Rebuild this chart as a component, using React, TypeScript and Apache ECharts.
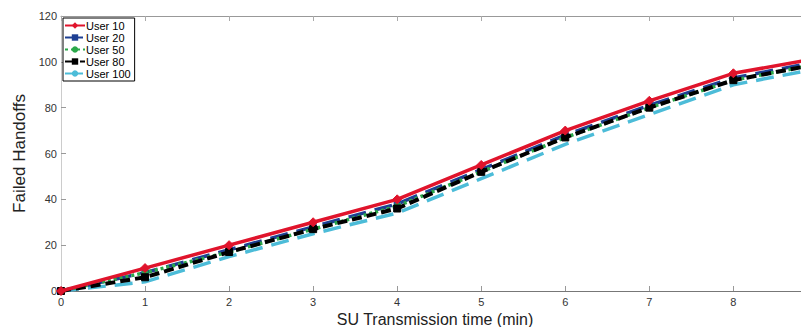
import React, { useEffect, useRef } from "react";
import * as echarts from "echarts";

const xValues = [0, 1, 2, 3, 4, 5, 6, 7, 8, 9];
const user10 = [0, 10, 20, 30, 40, 55, 70, 83, 95, 101.5];
const user20 = [0, 8, 18, 28, 38, 53, 68, 81, 93, 100];
const user50 = [0, 8, 17, 27, 37, 52, 67, 80, 92, 99];
const user80 = [0, 6, 17, 27, 36, 52, 67, 80, 92, 99];
const user100 = [0, 4, 15, 25, 34, 49, 64, 77, 90, 97];

const seriesNames = ["User 10", "User 20", "User 50", "User 80", "User 100"];
const yTicks = [0, 20, 40, 60, 80, 100, 120];
const xTicks = [0, 1, 2, 3, 4, 5, 6, 7, 8];

const FONT = "Liberation Sans";

export default function App() {
  const ref = useRef<HTMLDivElement>(null);
  useEffect(() => {
    if (!ref.current) return;
    const chart = echarts.init(ref.current, null, { renderer: "svg" });
    const pts = (arr: number[]) => xValues.map((x, i) => [x, arr[i]]);
    const mk = (
      name: string,
      data: number[],
      color: string,
      type: any,
      width: number,
      symbol: string,
      size: number,
      z: number
    ) => ({
      name,
      type: "line",
      data: pts(data),
      symbol,
      symbolSize: size,
      showSymbol: symbol !== "none",
      z,
      clip: true,
      lineStyle: { color, width, type },
      itemStyle: { color, borderColor: color },
    });
    chart.setOption({
      animation: false,
      backgroundColor: "#ffffff",
      grid: { left: 61, right: 0, top: 16, bottom: 44, show: false },
      legend: {
        orient: "vertical",
        left: 63,
        top: 18,
        data: seriesNames,
        itemWidth: 20,
        itemHeight: 8,
        itemGap: 1,
        padding: [2, 4, 2, 1],
        borderColor: "#000",
        borderWidth: 1,
        backgroundColor: "#fff",
        textStyle: { fontFamily: FONT, fontSize: 11, color: "#000", padding: [0, 0, 0, -4] },
      },
      xAxis: [
        {
          type: "value",
          min: 0,
          max: 8.9,
          interval: 1,
          name: "SU Transmission time (min)",
          nameLocation: "middle",
          nameGap: 19,
          nameTextStyle: { fontFamily: FONT, fontSize: 16, color: "#222" },
          axisLine: { show: true, lineStyle: { color: "#777", width: 1 } },
          axisTick: { show: true, inside: true, length: 5, lineStyle: { color: "#999" } },
          axisLabel: {
            fontFamily: FONT,
            fontSize: 11,
            color: "#333",
            margin: 5,
            showMaxLabel: false,
            formatter: (v: number) => (xTicks.includes(v) ? String(v) : ""),
          },
          splitLine: { show: false },
        },
        {
          type: "value",
          position: "top",
          min: 0,
          max: 8.9,
          interval: 1,
          axisLine: { show: true, lineStyle: { color: "#999", width: 1 } },
          axisTick: { show: true, inside: true, length: 5, lineStyle: { color: "#aaa" } },
          axisLabel: { show: false },
          splitLine: { show: false },
        },
      ],
      yAxis: {
        type: "value",
        min: 0,
        max: 120,
        interval: 20,
        name: "Failed Handoffs",
        nameLocation: "middle",
        nameGap: 33,
        nameTextStyle: { fontFamily: FONT, fontSize: 17, color: "#222" },
        axisLine: { show: true, lineStyle: { color: "#ccc", width: 1 } },
        axisTick: { show: true, inside: true, length: 5, lineStyle: { color: "#999" } },
        axisLabel: {
          fontFamily: FONT,
          fontSize: 11,
          color: "#333",
          margin: 4,
          formatter: (v: number) => (yTicks.includes(v) ? String(v) : ""),
        },
        splitLine: { show: false },
      },
      series: [
        mk("User 100", user100, "#4cbcd8", [18, 9], 3.5, "none", 0, 1),
        mk("User 20", user20, "#1d3f93", [18, 9], 3.5, "rect", 6, 2),
        mk("User 50", user50, "#2aa84a", [3, 3], 3.5, "circle", 6, 3),
        mk("User 80", user80, "#000000", [10, 5], 4, "rect", 7, 4),
        mk("User 10", user10, "#e0142c", "solid", 3.5, "diamond", 9, 5),
      ],
    });
    return () => chart.dispose();
  }, []);
  return <div ref={ref} style={{ width: 809, height: 335, margin: -8 }} />;
}
